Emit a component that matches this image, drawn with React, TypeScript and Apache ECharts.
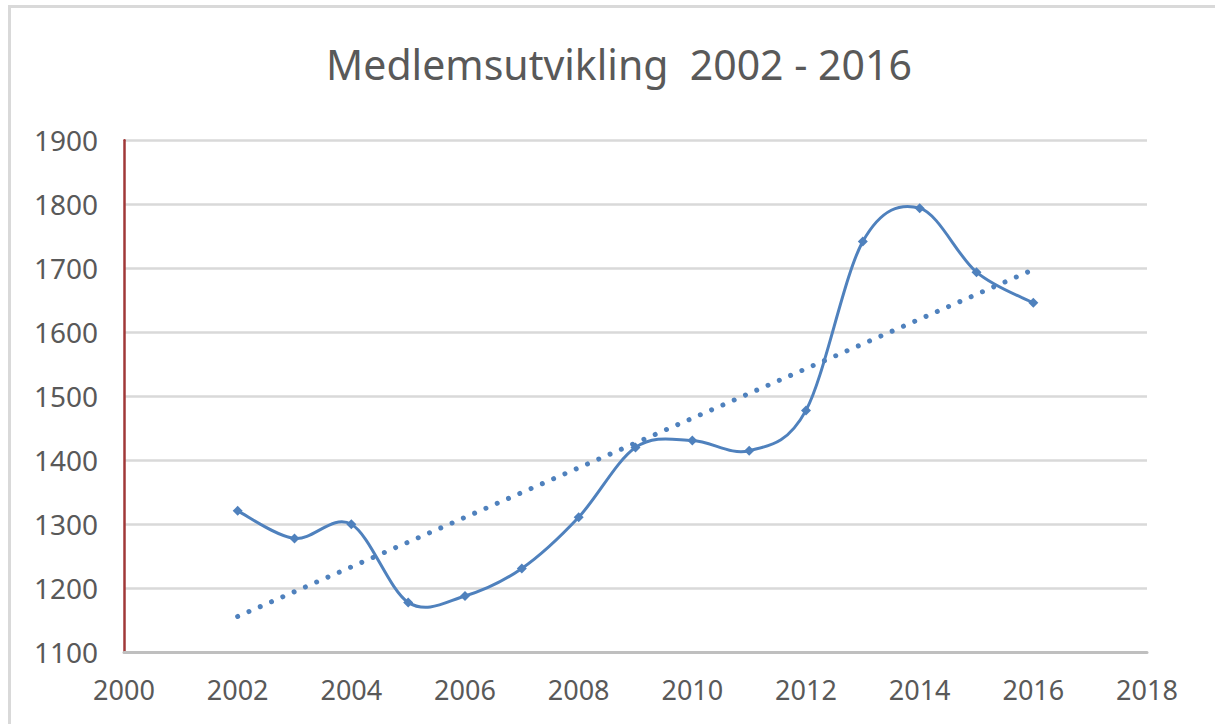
import React, { useEffect, useRef } from "react";
import * as echarts from "echarts";

const titleText = "Medlemsutvikling  2002 - 2016";
const years = [2002, 2003, 2004, 2005, 2006, 2007, 2008, 2009, 2010, 2011, 2012, 2013, 2014, 2015, 2016];
const members = [1321, 1278, 1300, 1178, 1188, 1231, 1311, 1420, 1431, 1415, 1478, 1742, 1794, 1694, 1646];
const trendYears = [2002, 2016];
const trendValues = [1156, 1698];

const BLUE = "#4f81bd";
const TEXT = "#595959";
const FONT = "'Noto Sans', sans-serif";

function smoothPath(pts: number[][]): string {
  const n = pts.length;
  if (!n) return "";
  let d = `M${pts[0][0]},${pts[0][1]}`;
  for (let i = 0; i < n - 1; i++) {
    const p0 = pts[Math.max(i - 1, 0)];
    const p1 = pts[i];
    const p2 = pts[i + 1];
    const p3 = pts[Math.min(i + 2, n - 1)];
    const c1x = p1[0] + (p2[0] - p0[0]) / 6;
    const c1y = p1[1] + (p2[1] - p0[1]) / 6;
    const c2x = p2[0] - (p3[0] - p1[0]) / 6;
    const c2y = p2[1] - (p3[1] - p1[1]) / 6;
    d += ` C${c1x},${c1y} ${c2x},${c2y} ${p2[0]},${p2[1]}`;
  }
  return d;
}

export default function App() {
  const ref = useRef<HTMLDivElement>(null);
  useEffect(() => {
    if (!ref.current) return;
    const chart = echarts.init(ref.current, undefined, { renderer: "svg" });
    chart.setOption({
      animation: false,
      backgroundColor: "#ffffff",
      title: {
        text: titleText,
        left: 614,
        textAlign: "center",
        top: 38,
        textStyle: { fontFamily: FONT, fontSize: 41, fontWeight: "normal", color: TEXT },
      },
      graphic: [
        { type: "rect", shape: { x: 8, y: 5, width: 1207, height: 3 }, style: { fill: "#d9d9d9" }, silent: true },
        { type: "rect", shape: { x: 8, y: 5, width: 3, height: 719 }, style: { fill: "#d9d9d9" }, silent: true },
      ],
      grid: { left: 124, right: 68, top: 140.3, bottom: 71.7, containLabel: false },
      xAxis: {
        type: "value",
        min: 2000,
        max: 2018,
        interval: 2,
        axisLine: { show: true, lineStyle: { color: "#bfbfbf", width: 3 } },
        axisTick: { show: false },
        splitLine: { show: false },
        axisLabel: { fontFamily: FONT, fontSize: 27, color: TEXT, margin: 24, formatter: (v: number) => String(v) },
      },
      yAxis: {
        type: "value",
        min: 1100,
        max: 1900,
        interval: 100,
        axisLine: { show: true, onZero: false, lineStyle: { color: "#a03838", width: 2.5 } },
        axisTick: { show: false },
        splitLine: { show: true, lineStyle: { color: "#d9d9d9", width: 2.5 } },
        axisLabel: { fontFamily: FONT, fontSize: 28, color: TEXT, margin: 26, formatter: (v: number) => String(v) },
      },
      series: [
        {
          name: "Trend",
          type: "line",
          data: trendYears.map((y, i) => [y, trendValues[i]]),
          showSymbol: false,
          symbol: "none",
          lineStyle: { color: BLUE, width: 5, type: [0.01, 12.3], cap: "round" },
          z: 2,
        },
        {
          name: "Kurve",
          type: "custom",
          data: [[years[0], members[0]]],
          renderItem: (params: any, api: any) => {
            const pts = years.map((y, i) => api.coord([y, members[i]]));
            return {
              type: "path",
              shape: { pathData: smoothPath(pts) },
              style: { stroke: BLUE, lineWidth: 3, fill: "none" },
            };
          },
          z: 3,
        },
        {
          name: "Medlemmer",
          type: "line",
          data: years.map((y, i) => [y, members[i]]),
          symbol: "diamond",
          symbolSize: 10,
          itemStyle: { color: BLUE },
          lineStyle: { width: 0, opacity: 0 },
          z: 4,
        },
      ],
    });
    return () => chart.dispose();
  }, []);
  return (
    <div
      ref={ref}
      style={{ position: "fixed", left: 0, top: 0, width: 1215, height: 724 }}
    />
  );
}
